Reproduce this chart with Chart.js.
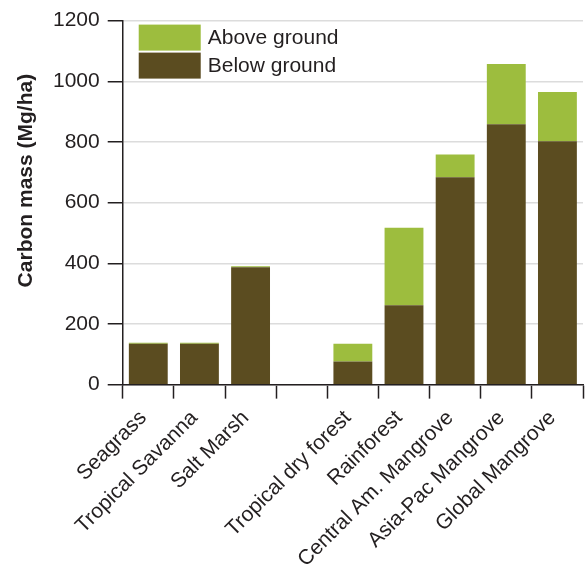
<!DOCTYPE html>
<html>
<head>
<meta charset="utf-8">
<script src="https://cdn.jsdelivr.net/npm/chart.js@4"></script>
<style>
  html, body { margin: 0; padding: 0; background: #fff; }
  #wrap { width: 587px; height: 568px; }
</style>
</head>
<body>
<div id="wrap"><canvas id="myChart"></canvas></div>
<script>
const categories = ["Seagrass", "Tropical Savanna", "Salt Marsh", "", "Tropical dry forest",
  "Rainforest", "Central Am. Mangrove", "Asia-Pac Mangrove", "Global Mangrove"];
const belowGround = [135, 135, 387, null, 76, 262, 684, 858, 802];
const aboveGround = [3, 3, 3, null, 59, 255, 75, 199, 163];
const yTicks = [0, 200, 400, 600, 800, 1000, 1200];
const yTitle = "Carbon mass (Mg/ha)";

const greenCol = "#9dbd3e";
const brownCol = "#5b4c20";
const textCol = "#231f20";
const fontFam = "'Liberation Sans', Arial, sans-serif";

// legend sits inside the plot, top-left, and the y title sits a bit above centre
const extras = {
  id: "extras",
  afterDraw(chart) {
    const ctx = chart.ctx;
    const area = chart.chartArea;
    const items = [chart.data.datasets[1], chart.data.datasets[0]];
    ctx.save();
    ctx.font = "21px " + fontFam;
    ctx.textBaseline = "middle";
    items.forEach((ds, i) => {
      let y = area.top + 4 + i * 28;
      ctx.fillStyle = ds.backgroundColor;
      ctx.fillRect(area.left + 16, y, 62, 26);
      ctx.fillStyle = textCol;
      ctx.fillText(ds.label, area.left + 85, y + 14);
    });

    ctx.font = "bold 21px " + fontFam;
    ctx.textAlign = "center";
    ctx.translate(26, (area.top + area.bottom) / 2 - 22);
    ctx.rotate(-Math.PI / 2);
    ctx.fillText(yTitle, 0, 0);
    ctx.restore();
  },
};

let chartInstance = new Chart(document.getElementById("myChart"), {
  type: "bar",
  data: {
    labels: categories,
    datasets: [
      { label: "Below ground", data: belowGround, backgroundColor: brownCol, stack: "s" },
      { label: "Above ground", data: aboveGround, backgroundColor: greenCol, stack: "s" },
    ],
  },
  options: {
    responsive: true,
    maintainAspectRatio: false,
    animation: false,
    layout: { padding: { top: -2, right: 4, left: 45, bottom: -11 } },
    datasets: { bar: { barPercentage: 0.76, categoryPercentage: 1 } },
    plugins: { legend: { display: false }, tooltip: { enabled: false } },
    scales: {
      x: {
        stacked: true,
        grid: { offset: true, drawOnChartArea: false, tickLength: 14, tickColor: textCol, tickWidth: 1.5 },
        border: { color: textCol, width: 1.5 },
        ticks: {
          autoSkip: false, minRotation: 45, maxRotation: 45, padding: 7, labelOffset: -5,
          color: textCol, font: { size: 21, family: fontFam },
        },
      },
      y: {
        stacked: true,
        min: 0,
        max: 1200,
        afterBuildTicks: (axis) => { axis.ticks = yTicks.map((v) => ({ value: v })); },
        grid: { color: "#dcdcdc", lineWidth: 1.5, tickLength: 15, tickColor: textCol, tickWidth: 1.5 },
        border: { color: textCol, width: 1.5 },
        ticks: {
          padding: 8, color: textCol, font: { size: 21, family: fontFam },
          callback: (v) => String(v),
        },
      },
    },
  },
  plugins: [extras],
});
</script>
</body>
</html>
